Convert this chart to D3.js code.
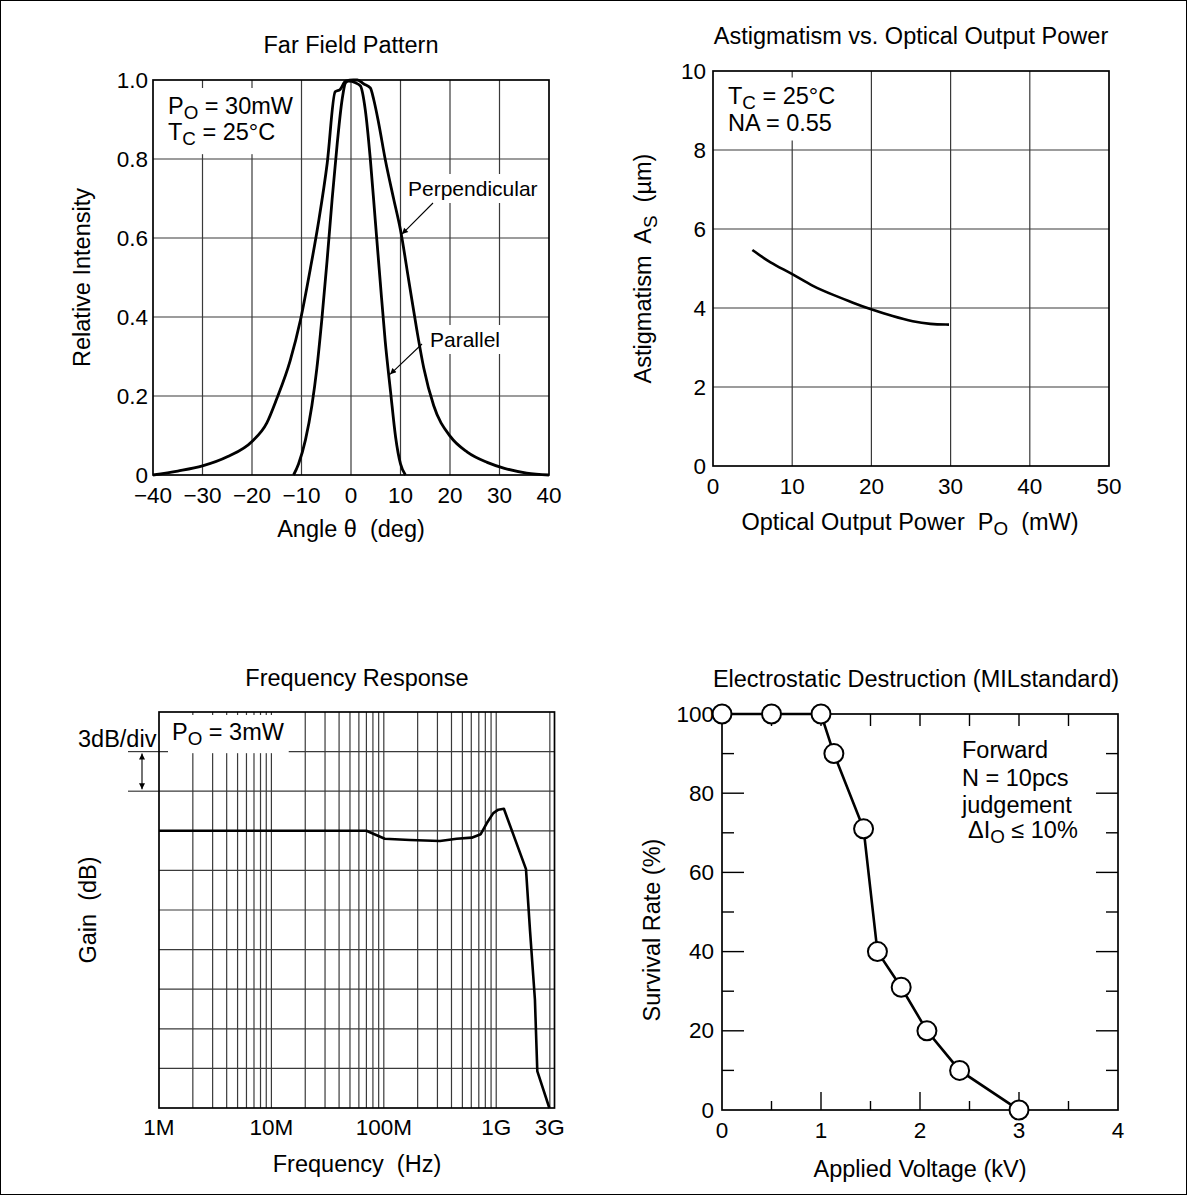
<!DOCTYPE html>
<html>
<head>
<meta charset="utf-8">
<script src="https://cdn.jsdelivr.net/npm/d3@7"></script>
<style>
body { margin: 0; background: #fff; }
svg text { font-family: "Liberation Sans", Arial, Helvetica, sans-serif; fill: #000; white-space: pre; }
</style>
</head>
<body>
<div id="chart"></div>
<script>
// Far Field Pattern
const perpAngle = [-40, -35, -30, -25, -20, -17, -15, -12.3, -10.2, -8.2, -6.5, -4.8, -3.2, -2.2, -1.1, 0.5, 1.3, 2.6, 3.9, 4.6, 5.6, 6.9, 8.6, 10, 11.7, 13.3, 14.7, 16.7, 20.1, 23.5, 27.5, 31, 35.5, 40]
const perpIntensity = [0, 0.01, 0.023, 0.046, 0.085, 0.132, 0.193, 0.289, 0.393, 0.523, 0.645, 0.79, 0.97, 0.976, 0.997, 1.0, 1.0, 0.99, 0.98, 0.95, 0.89, 0.8, 0.7, 0.62, 0.49, 0.367, 0.271, 0.176, 0.097, 0.058, 0.032, 0.017, 0.005, 0]
const paraAngle = [-11.6, -10.6, -9.2, -7.9, -6.9, -5.9, -4.85, -3.8, -2.8, -1.8, -1.1, -0.5, 0.9, 1.9, 2.9, 3.9, 4.9, 5.9, 6.9, 8.0, 9.0, 10, 11]
const paraIntensity = [0, 0.028, 0.089, 0.176, 0.27, 0.393, 0.54, 0.7, 0.837, 0.95, 0.993, 0.997, 0.993, 0.985, 0.923, 0.8, 0.645, 0.49, 0.34, 0.21, 0.097, 0.028, 0]
const farTicksX = [-40, -30, -20, -10, 0, 10, 20, 30, 40]
const farTicksY = [0, 0.2, 0.4, 0.6, 0.8, 1.0]
const farLabelsY = ["0", "0.2", "0.4", "0.6", "0.8", "1.0"]
const perpArrowTip = [10.3, 0.61]
const paraArrowTip = [7.9, 0.255]

// Astigmatism vs. Optical Output Power
const astPower = [4.97, 7.16, 9.98, 12.64, 15.2, 17.7, 20.0, 22.7, 25.3, 27.4, 29.8]
const astValue = [5.47, 5.15, 4.87, 4.54, 4.33, 4.13, 3.96, 3.79, 3.65, 3.59, 3.58]
const astTicksX = [0, 10, 20, 30, 40, 50]
const astTicksY = [0, 2, 4, 6, 8, 10]

// Frequency Response (gain relative, 3 dB/div)
const freqHz = [1e6, 70e6, 102e6, 171e6, 316e6, 445e6, 606e6, 728e6, 823e6, 942e6, 1.045e9, 1.17e9, 1.84e9, 2.0e9, 2.21e9, 2.32e9, 2.97e9]
const freqGain = [0, 0, -0.6, -0.7, -0.77, -0.6, -0.52, -0.26, 0.57, 1.34, 1.6, 1.67, -2.9, -7.6, -12.8, -18.2, -21]
const freqLabelValues = [1e6, 1e7, 1e8, 1e9, 3e9]
const freqLabels = ["1M", "10M", "100M", "1G", "3G"]

// Electrostatic Destruction
const esdVoltage = [0, 0.5, 1.0, 1.13, 1.43, 1.57, 1.81, 2.07, 2.4, 3.0]
const esdSurvival = [100, 100, 100, 90, 71, 40, 31, 20, 10, 0]
const esdTicksX = [0, 1, 2, 3, 4]
const esdTicksY = [0, 20, 40, 60, 80, 100]

const tickSize = 22.5
const titleSize = 23.5
const gridColor = '#3a3a3a'

document.addEventListener('DOMContentLoaded', function ()
{
const svg = d3.select("#chart")
    .append("svg")
    .attr("width", 1187)
    .attr("height", 1195)

svg.append("rect")
    .attr("x", 0.5)
    .attr("y", 0.5)
    .attr("width", 1186)
    .attr("height", 1194)
    .attr("fill", "#fff")
    .attr("stroke", "#000")

const defs = svg.append("defs")
defs.append("marker")
    .attr("id", "head")
    .attr("viewBox", "0 0 10 10")
    .attr("refX", 10)
    .attr("refY", 5)
    .attr("markerWidth", 9)
    .attr("markerHeight", 6)
    .attr("markerUnits", "userSpaceOnUse")
    .attr("orient", "auto-start-reverse")
    .append("path")
    .attr("d", "M0,0 L10,5 L0,10 z")
    .attr("fill", "#000")

// text with "_x" parts written as subscripts
function richText(g, x, y, parts, size, anchor) {
    const t = g.append("text")
        .attr("x", x)
        .attr("y", y)
        .attr("font-size", size)
        .attr("text-anchor", anchor || "start")
        .attr("xml:space", "preserve")
    let low = false
    parts.forEach(p => {
        const sub = p.startsWith("_")
        const s = t.append("tspan").text(sub ? p.slice(1) : p)
        if (sub && !low) { s.attr("dy", size * 0.22).attr("font-size", size * 0.8); low = true }
        else if (sub) { s.attr("font-size", size * 0.8) }
        else if (low) { s.attr("dy", -size * 0.22); low = false }
    })
    return t
}

function whiteBox(g, node, pad) {
    const b = node.getBBox()
    g.insert("rect", ":first-child")
        .attr("x", b.x - pad)
        .attr("y", b.y - pad)
        .attr("width", b.width + 2 * pad)
        .attr("height", b.height + 2 * pad)
        .attr("fill", "#fff")
}

function frame(g, x, y) {
    const [x0, x1] = x.range()
    const [y1, y0] = y.range()
    g.append("rect")
        .attr("x", x0)
        .attr("y", y0)
        .attr("width", x1 - x0)
        .attr("height", y1 - y0)
        .attr("fill", "none")
        .attr("stroke", "#000")
        .attr("stroke-width", 1.7)
}

function grid(g, x, y, xs, ys) {
    const [x0, x1] = x.range()
    const [y1, y0] = y.range()
    g.selectAll(".gx").data(xs).enter().append("line")
        .attr("x1", d => x(d)).attr("x2", d => x(d))
        .attr("y1", y0).attr("y2", y1)
        .attr("stroke", gridColor).attr("stroke-width", 1.2)
    g.selectAll(".gy").data(ys).enter().append("line")
        .attr("x1", x0).attr("x2", x1)
        .attr("y1", d => y(d)).attr("y2", d => y(d))
        .attr("stroke", gridColor).attr("stroke-width", 1.2)
}

function title(x, y, s) {
    svg.append("text")
        .attr("x", x).attr("y", y)
        .attr("font-size", titleSize)
        .attr("text-anchor", "middle")
        .text(s)
}

function labelsX(x, vals, texts, y) {
    svg.append("g").selectAll("text").data(vals).enter().append("text")
        .attr("x", d => x(d)).attr("y", y)
        .attr("font-size", tickSize)
        .attr("text-anchor", "middle")
        .text((d, i) => texts[i])
}

function labelsY(y, vals, texts, x) {
    svg.append("g").selectAll("text").data(vals).enter().append("text")
        .attr("x", x).attr("y", d => y(d))
        .attr("dy", "0.34em")
        .attr("font-size", tickSize)
        .attr("text-anchor", "end")
        .text((d, i) => texts[i])
}

function titleY(x, y, parts) {
    const g = svg.append("g").attr("transform", `translate(${x},${y}) rotate(-90)`)
    richText(g, 0, 0, parts, titleSize, "middle").attr("dy", "0.36em")
}

/* Far Field Pattern */
const xFar = d3.scaleLinear([-40, 40], [153, 549])
const yFar = d3.scaleLinear([0, 1], [475, 80])
const gFar = svg.append("g")
grid(gFar, xFar, yFar, farTicksX.slice(1, -1), farTicksY.slice(1, -1))
const farNote = gFar.append("g")
richText(farNote, 168, 114, ["P", "_O", " = 30mW"], titleSize)
richText(farNote, 168, 140, ["T", "_C", " = 25°C"], titleSize)
whiteBox(farNote, farNote.node(), 5)
const perpNote = gFar.append("g")
perpNote.append("text").attr("x", 408).attr("y", 196).attr("font-size", 21).text("Perpendicular")
whiteBox(perpNote, perpNote.node(), 3)
const paraNote = gFar.append("g")
paraNote.append("text").attr("x", 430).attr("y", 347).attr("font-size", 21).text("Parallel")
whiteBox(paraNote, paraNote.node(), 3)
frame(gFar, xFar, yFar)
const lineFar = d3.line().x(d => xFar(d[0])).y(d => yFar(d[1])).curve(d3.curveMonotoneX)
gFar.append("path")
    .attr("d", lineFar(perpAngle.map((a, i) => [a, perpIntensity[i]])))
    .attr("fill", "none").attr("stroke", "#000").attr("stroke-width", 2.8)
gFar.append("path")
    .attr("d", lineFar(paraAngle.map((a, i) => [a, paraIntensity[i]])))
    .attr("fill", "none").attr("stroke", "#000").attr("stroke-width", 2.8)
gFar.append("line")
    .attr("x1", 433).attr("y1", 203)
    .attr("x2", xFar(perpArrowTip[0])).attr("y2", yFar(perpArrowTip[1]))
    .attr("stroke", "#000").attr("stroke-width", 1.1).attr("marker-end", "url(#head)")
gFar.append("line")
    .attr("x1", 422).attr("y1", 344)
    .attr("x2", xFar(paraArrowTip[0])).attr("y2", yFar(paraArrowTip[1]))
    .attr("stroke", "#000").attr("stroke-width", 1.1).attr("marker-end", "url(#head)")
title(351, 53, "Far Field Pattern")
labelsX(xFar, farTicksX, farTicksX.map(d => d < 0 ? "\u2212" + (-d) : String(d)), 503)
labelsY(yFar, farTicksY, farLabelsY, 148)
richText(svg, 351, 537, ["Angle θ  (deg)"], titleSize, "middle")
titleY(82, 277.5, ["Relative Intensity"])

/* Astigmatism vs. Optical Output Power */
const xAst = d3.scaleLinear([0, 50], [713, 1109])
const yAst = d3.scaleLinear([0, 10], [466, 71])
const gAst = svg.append("g")
grid(gAst, xAst, yAst, astTicksX.slice(1, -1), astTicksY.slice(1, -1))
const astNote = gAst.append("g")
richText(astNote, 728, 103.5, ["T", "_C", " = 25°C"], titleSize)
richText(astNote, 728, 130.5, ["NA = 0.55"], titleSize)
whiteBox(astNote, astNote.node(), 5)
frame(gAst, xAst, yAst)
gAst.append("path")
    .attr("d", d3.line().x(d => xAst(d[0])).y(d => yAst(d[1])).curve(d3.curveBasis)(astPower.map((p, i) => [p, astValue[i]])))
    .attr("fill", "none").attr("stroke", "#000").attr("stroke-width", 2.6)
title(911, 44, "Astigmatism vs. Optical Output Power")
labelsX(xAst, astTicksX, astTicksX.map(String), 494)
labelsY(yAst, astTicksY, astTicksY.map(String), 706)
richText(svg, 910, 530, ["Optical Output Power  P", "_O", "  (mW)"], titleSize, "middle")
titleY(643, 268.5, ["Astigmatism  A", "_S", "  (µm)"])

/* Frequency Response */
const xFrq = d3.scaleLog([1e6, 3.3e9], [159, 554.5])
const yFrq = d3.scaleLinear([-21, 9], [1108, 712])
const gFrq = svg.append("g")
const frqGridX = xFrq.ticks().filter(d => d > 1e6 && (d <= 1e9 || d === 3e9))
const frqGridY = d3.range(-18, 9, 3)
grid(gFrq, xFrq, yFrq, frqGridX, frqGridY)
gFrq.selectAll(".ext").data([6, 3]).enter().append("line")
    .attr("x1", 128).attr("x2", 159)
    .attr("y1", d => yFrq(d)).attr("y2", d => yFrq(d))
    .attr("stroke", gridColor).attr("stroke-width", 1.2)
const frqNote = gFrq.append("g")
richText(frqNote, 172, 740, ["P", "_O", " = 3mW"], titleSize)
whiteBox(frqNote, frqNote.node(), 4)
frame(gFrq, xFrq, yFrq)
gFrq.append("path")
    .attr("d", d3.line().x(d => xFrq(d[0])).y(d => yFrq(d[1]))(freqHz.map((f, i) => [f, freqGain[i]])))
    .attr("fill", "none").attr("stroke", "#000").attr("stroke-width", 2.6)
    .attr("stroke-linejoin", "round")
gFrq.append("line")
    .attr("x1", 142).attr("x2", 142)
    .attr("y1", yFrq(6) + 2).attr("y2", yFrq(3) - 2)
    .attr("stroke", "#000").attr("stroke-width", 1.1)
    .attr("marker-start", "url(#head)").attr("marker-end", "url(#head)")
svg.append("text").attr("x", 78).attr("y", 747).attr("font-size", titleSize).text("3dB/div")
title(357, 686, "Frequency Response")
labelsX(xFrq, freqLabelValues, freqLabels, 1135)
richText(svg, 357, 1172, ["Frequency  (Hz)"], titleSize, "middle")
titleY(88, 910, ["Gain  (dB)"])

/* Electrostatic Destruction */
const xEsd = d3.scaleLinear([0, 4], [722, 1118])
const yEsd = d3.scaleLinear([0, 100], [1110, 714])
const gEsd = svg.append("g")
frame(gEsd, xEsd, yEsd)
const halfX = d3.range(0.5, 4, 0.5)
const tickLines = [
    ...halfX.map(v => [xEsd(v), 1110, xEsd(v), 1110 - (v % 1 === 0 ? 18 : 9)]),
    ...halfX.map(v => [xEsd(v), 714, xEsd(v), 714 + 12]),
    ...d3.range(10, 100, 10).map(v => [722, yEsd(v), 722 + (v % 20 === 0 ? 22 : 12), yEsd(v)]),
    ...d3.range(10, 100, 10).map(v => [1118, yEsd(v), 1118 - (v % 20 === 0 ? 22 : 12), yEsd(v)])
]
gEsd.selectAll(".tk").data(tickLines).enter().append("line")
    .attr("x1", d => d[0]).attr("y1", d => d[1])
    .attr("x2", d => d[2]).attr("y2", d => d[3])
    .attr("stroke", "#000").attr("stroke-width", 1.4)
const esdPts = esdVoltage.map((v, i) => [v, esdSurvival[i]])
gEsd.append("path")
    .attr("d", d3.line().x(d => xEsd(d[0])).y(d => yEsd(d[1]))(esdPts))
    .attr("fill", "none").attr("stroke", "#000").attr("stroke-width", 2.6)
gEsd.selectAll("circle").data(esdPts).enter().append("circle")
    .attr("cx", d => xEsd(d[0])).attr("cy", d => yEsd(d[1]))
    .attr("r", 9.5)
    .attr("fill", "#fff").attr("stroke", "#000").attr("stroke-width", 2)
richText(svg, 962, 758, ["Forward"], titleSize)
richText(svg, 962, 785.5, ["N = 10pcs"], titleSize)
richText(svg, 962, 812.5, ["judgement"], titleSize)
richText(svg, 968, 838, ["ΔI", "_O", " ≤ 10%"], titleSize)
title(916, 687, "Electrostatic Destruction (MILstandard)")
labelsX(xEsd, esdTicksX, esdTicksX.map(String), 1138)
labelsY(yEsd, esdTicksY, esdTicksY.map(String), 714)
richText(svg, 920, 1177, ["Applied Voltage (kV)"], titleSize, "middle")
titleY(652, 930, ["Survival Rate (%)"])
}, { once: true });
</script>
</body>
</html>
